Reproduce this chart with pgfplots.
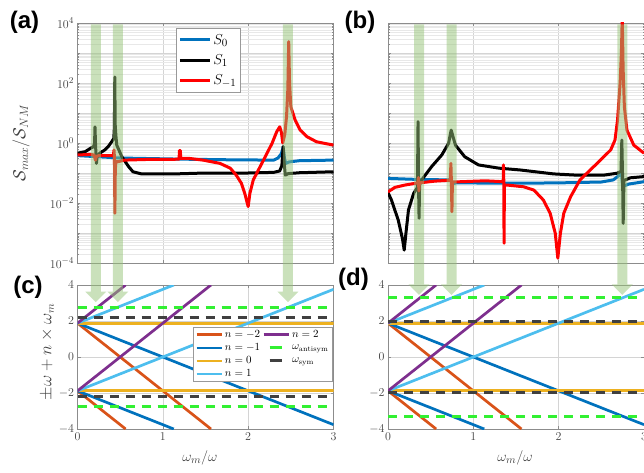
\documentclass[border=0pt]{standalone}
\usepackage{pgfplots}
\pgfplotsset{compat=1.18}
\usepackage{fontspec}
\newfontfamily\panelfont{Liberation Sans}
\usetikzlibrary{calc}
\definecolor{mblue}{RGB}{0,114,189}
\definecolor{morange}{RGB}{217,83,25}
\definecolor{myellow}{RGB}{237,177,32}
\definecolor{mcyan}{RGB}{77,190,238}
\definecolor{mpurple}{RGB}{126,47,142}
\definecolor{mgreen}{RGB}{50,240,50}
\definecolor{mgray}{RGB}{64,64,64}
\definecolor{bandcol}{RGB}{150,195,120}
\pgfplotsset{
 myBase/.style={scale only axis, width=256pt, anchor=south west, xmin=0, xmax=3, xtick={0,1,2,3},
   axis line style={black!45, line width=0.6pt}, tick style={black!45, line width=0.4pt}, tick align=inside,
   major tick length=3pt, minor tick length=1.5pt,
   ticklabel style={text=black!75, font=\fontsize{12.5}{14}\selectfont},
   label style={text=black!75},
   major grid style={black!17, line width=0.4pt}, minor grid style={black!9, line width=0.3pt},
   no markers},
 myTop/.style={myBase, height=240pt, ymin=1e-4, ymax=1e4,
   ytick={1e-4,1e-3,1e-2,1e-1,1,1e1,1e2,1e3,1e4},
   minor ytick={2e-4,3e-4,4e-4,5e-4,6e-4,7e-4,8e-4,9e-4,
                2e-3,3e-3,4e-3,5e-3,6e-3,7e-3,8e-3,9e-3,
                2e-2,3e-2,4e-2,5e-2,6e-2,7e-2,8e-2,9e-2,
                2e-1,3e-1,4e-1,5e-1,6e-1,7e-1,8e-1,9e-1,
                2,3,4,5,6,7,8,9,20,30,40,50,60,70,80,90,
                200,300,400,500,600,700,800,900,2000,3000,4000,5000,6000,7000,8000,9000},
   xticklabels={}, grid=both},
 myBot/.style={myBase, height=144pt, ymin=-4, ymax=4, ytick={-4,-2,0,2,4}, grid=major,
   xlabel={$\omega_m/\omega$}, xlabel style={font=\fontsize{15}{17}\selectfont, anchor=center}},
 myCur/.style={line width=3pt, line join=round},
 myLn/.style={line width=2.7pt, forget plot},
 myDsh/.style={line width=3pt, dash pattern=on 9pt off 7pt, forget plot},
}
\begin{document}
\begin{tikzpicture}[x=1pt,y=1pt]
\path[use as bounding box] (0,0) rectangle (644,472);

% ---------------- (a)
\begin{semilogyaxis}[myTop, at={(77.5pt,209pt)},
  yticklabels={$10^{-4}$,,$10^{-2}$,,$10^{0}$,,$10^{2}$,,$10^{4}$},
  ylabel={$\mathcal{S}_{max}/\mathcal{S}_{NM}$},
  ylabel style={at={(axis description cs:-0.22,0.5)}, anchor=center, font=\fontsize{17.5}{19}\selectfont},
  legend style={at={(0.385,0.979)}, anchor=north west, draw=black!40, line width=0.5pt,
     font=\fontsize{15}{17}\selectfont, row sep=5pt, inner xsep=2pt, inner ysep=4pt, cells={anchor=west}},
  legend image code/.code={\draw[#1] (0pt,0pt) -- (30pt,0pt);}]
\addplot[myCur, mblue] coordinates {(0,0.380)(0.5,0.316)(1.2,0.290)(1.8,0.275)(2.30,0.269)(2.35,0.316)(2.39,0.447)(2.41,0.741)(2.425,0.316)(2.44,0.209)(2.48,0.234)(2.6,0.257)(3.0,0.269)};
\addlegendentry{$S_0$}
\addplot[myCur, black] coordinates {(0,0.457)(0.09,0.513)(0.15,0.661)(0.19,0.759)(0.200,1)(0.205,3.47)(0.212,0.794)(0.222,0.209)(0.23,0.355)(0.26,0.457)(0.32,0.589)(0.36,0.759)(0.40,1.096)(0.425,1.413)(0.432,3.16)(0.437,158.5)(0.442,3.98)(0.45,1.778)(0.46,0.851)(0.52,0.347)(0.6,0.162)(0.65,0.110)(0.75,0.0933)(1.14,0.0933)(1.5,0.1)(2.0,0.1)(2.3,0.105)(2.37,0.117)(2.395,0.178)(2.41,0.759)(2.42,0.251)(2.435,0.0851)(2.47,0.0955)(2.6,0.102)(3.0,0.11)};
\addlegendentry{$S_1$}
\addplot[myCur, red] coordinates {(0,0.398)(0.15,0.417)(0.195,0.398)(0.21,0.269)(0.22,0.355)(0.25,0.380)(0.35,0.380)(0.42,0.380)(0.428,0.589)(0.433,0.316)(0.438,0.00457)(0.443,0.126)(0.45,0.240)(0.48,0.240)(0.55,0.269)(0.8,0.282)(1.19,0.288)(1.195,0.562)(1.205,0.562)(1.21,0.309)(1.3,0.309)(1.47,0.269)(1.67,0.209)(1.79,0.145)(1.86,0.0851)(1.92,0.0457)(1.96,0.0209)(2.0,0.00759)(2.02,0.0209)(2.06,0.0589)(2.12,0.126)(2.2,0.347)(2.28,0.977)(2.335,2.40)(2.37,3.47)(2.39,2.24)(2.405,1.0)(2.43,2.0)(2.45,7.94)(2.465,63.1)(2.475,2399)(2.485,100)(2.50,16.2)(2.55,5.89)(2.61,2.69)(2.69,1.62)(2.8,1.10)(3.0,0.851)};
\addlegendentry{$S_{-1}$}
\coordinate (ta1) at (axis cs:0.215,1e4);
\coordinate (ta2) at (axis cs:0.473,1e4);
\coordinate (ta3) at (axis cs:2.466,1e4);
\end{semilogyaxis}

% ---------------- (b)
\begin{semilogyaxis}[myTop, at={(388pt,209pt)}, yticklabels={}]
\addplot[myCur, mblue] coordinates {(0,0.0661)(0.3,0.0617)(0.69,0.0589)(0.72,0.0589)(0.735,0.0708)(0.75,0.0437)(0.8,0.0468)(1.5,0.0457)(2.0,0.0468)(2.5,0.0501)(2.64,0.0589)(2.7,0.0794)(2.735,0.1)(2.75,0.0355)(2.82,0.0427)(3.0,0.0513)};
\addplot[myCur, black] coordinates {(0,0.0224)(0.04,0.0126)(0.12,0.00269)(0.17,6.31e-4)(0.19,2.69e-4)(0.21,9.77e-4)(0.24,5.89e-3)(0.3,0.0209)(0.345,0.0331)(0.352,5.13)(0.358,0.0355)(0.364,3.09e-3)(0.37,0.0398)(0.395,0.0589)(0.51,0.162)(0.63,0.398)(0.71,0.977)(0.74,2.69)(0.79,0.851)(0.9,0.347)(1.06,0.186)(1.3,0.145)(1.55,0.126)(1.94,0.0933)(2.2,0.0851)(2.53,0.0851)(2.68,0.0977)(2.73,0.112)(2.74,1.259)(2.748,0.1)(2.756,2.09e-3)(2.765,0.0562)(2.84,0.0692)(3.0,0.0759)};
\addplot[myCur, red] coordinates {(0,0.0234)(0.08,0.0331)(0.2,0.0398)(0.35,0.0468)(0.356,0.0708)(0.362,0.0251)(0.368,0.0468)(0.55,0.0537)(0.73,0.0575)(0.737,0.209)(0.743,0.0501)(0.749,5.13e-3)(0.755,0.0501)(0.86,0.0513)(1.14,0.0550)(1.35,0.0513)(1.353,0.186)(1.357,0.0501)(1.36,4.57e-4)(1.364,0.0398)(1.39,0.0398)(1.59,0.0347)(1.71,0.0269)(1.82,0.0126)(1.90,4.57e-3)(1.96,9.77e-4)(1.99,1.45e-4)(2.02,9.77e-4)(2.06,4.57e-3)(2.14,0.0162)(2.25,0.0589)(2.37,0.126)(2.49,0.269)(2.61,0.589)(2.66,1.259)(2.69,5.89)(2.72,100)(2.735,1000)(2.745,1.58e4)(2.755,316)(2.77,15.8)(2.80,2.69)(2.88,0.851)(3.0,0.457)};
\coordinate (tb1) at (axis cs:0.364,1e4);
\coordinate (tb2) at (axis cs:0.745,1e4);
\coordinate (tb3) at (axis cs:2.746,1e4);
\end{semilogyaxis}

% ---------------- (c)
\begin{axis}[myBot, at={(77.5pt,43pt)},
  ylabel={$\pm\omega+n\times\omega_m$},
  ylabel style={at={(axis description cs:-0.117,0.535)}, anchor=center, font=\fontsize{16}{18}\selectfont},
  xlabel style={at={(axis description cs:0.478,-0.2)}},
  legend columns=2,
  legend style={at={(0.997,0.71)}, anchor=north east, draw=black!40, line width=0.5pt,
     font=\fontsize{10.5}{11}\selectfont, row sep=0.5pt, inner xsep=2pt, inner ysep=1.5pt, cells={anchor=west}},
  legend image code/.code={\draw[#1] (0pt,0pt) -- (25pt,0pt);}]
\addlegendimage{morange, line width=2.7pt}\addlegendentry{$n=-2$}
\addlegendimage{mpurple, line width=2.7pt}\addlegendentry{$n=2$}
\addlegendimage{mblue, line width=2.7pt}\addlegendentry{$n=-1$}
\addlegendimage{mgreen, line width=3pt, dash pattern=on 12pt off 30pt, dash phase=-6pt}\addlegendentry{$\omega_{\mathrm{antisym}}$}
\addlegendimage{myellow, line width=2.7pt}\addlegendentry{$n=0$}
\addlegendimage{mgray, line width=3pt, dash pattern=on 12pt off 30pt, dash phase=-6pt}\addlegendentry{$\omega_{\mathrm{sym}}$}
\addlegendimage{mcyan, line width=2.7pt}\addlegendentry{$n=1$}
\addplot[myLn, morange] coordinates {(0,1.88)(1.564,-4)};
\addplot[myLn, morange] coordinates {(0,-1.88)(0.564,-4)};
\addplot[myLn, mblue] coordinates {(0,1.88)(3,-3.76)};
\addplot[myLn, mblue] coordinates {(0,-1.88)(1.128,-4)};
\addplot[myLn, myellow] coordinates {(0,1.88)(3,1.88)};
\addplot[myLn, myellow] coordinates {(0,-1.88)(3,-1.88)};
\addplot[myLn, mcyan] coordinates {(0,1.88)(1.128,4)};
\addplot[myLn, mcyan] coordinates {(0,-1.88)(3,3.76)};
\addplot[myLn, mpurple] coordinates {(0,1.88)(0.564,4)};
\addplot[myLn, mpurple] coordinates {(0,-1.88)(1.564,4)};
\addplot[myDsh, mgreen] coordinates {(0,2.74)(3,2.74)};
\addplot[myDsh, mgreen] coordinates {(0,-2.74)(3,-2.74)};
\addplot[myDsh, mgray] coordinates {(0,2.18)(3,2.18)};
\addplot[myDsh, mgray] coordinates {(0,-2.18)(3,-2.18)};
\node[anchor=south west, text=black!75, font=\fontsize{12.5}{14}\selectfont, inner sep=0pt] at (rel axis cs:0,1) [yshift=3pt] {$\times10^{9}$};
\coordinate (tc1) at (axis cs:0.215,3.05);
\coordinate (tc2) at (axis cs:0.473,3.05);
\coordinate (tc3) at (axis cs:2.466,3.05);
\end{axis}

% ---------------- (d)
\begin{axis}[myBot, at={(388pt,43pt)},
  xlabel style={at={(axis description cs:0.496,-0.2)}}]
\addplot[myLn, morange] coordinates {(0,1.88)(1.564,-4)};
\addplot[myLn, morange] coordinates {(0,-1.88)(0.564,-4)};
\addplot[myLn, mblue] coordinates {(0,1.88)(3,-3.76)};
\addplot[myLn, mblue] coordinates {(0,-1.88)(1.128,-4)};
\addplot[myLn, myellow] coordinates {(0,1.88)(3,1.88)};
\addplot[myLn, myellow] coordinates {(0,-1.88)(3,-1.88)};
\addplot[myLn, mcyan] coordinates {(0,1.88)(1.128,4)};
\addplot[myLn, mcyan] coordinates {(0,-1.88)(3,3.76)};
\addplot[myLn, mpurple] coordinates {(0,1.88)(0.564,4)};
\addplot[myLn, mpurple] coordinates {(0,-1.88)(1.564,4)};
\addplot[myDsh, mgreen] coordinates {(0,3.31)(3,3.31)};
\addplot[myDsh, mgreen] coordinates {(0,-3.31)(3,-3.31)};
\addplot[myDsh, mgray] coordinates {(0,1.97)(3,1.97)};
\addplot[myDsh, mgray] coordinates {(0,-1.97)(3,-1.97)};
\node[anchor=south west, text=black!75, font=\fontsize{12.5}{14}\selectfont, inner sep=0pt] at (rel axis cs:0,1) [yshift=3pt] {$\times10^{9}$};
\coordinate (td1) at (axis cs:0.364,3.45);
\coordinate (td2) at (axis cs:0.745,3.45);
\coordinate (td3) at (axis cs:2.746,3.45);
\end{axis}

% ---------------- green bands / arrows
\foreach \t/\b in {ta1/tc1,ta2/tc2,ta3/tc3,tb1/td1,tb2/td2,tb3/td3}{
  \fill[bandcol, fill opacity=0.5] ($(\t)+(-5,-1.5)$) -- ($(\b)+(-5,10.5)$) -- ($(\b)+(-10.5,10.5)$) -- (\b)
     -- ($(\b)+(10.5,10.5)$) -- ($(\b)+(5,10.5)$) -- ($(\t)+(5,-1.5)$) -- cycle;
}

% ---------------- panel labels
\node[font=\panelfont\bfseries\fontsize{24}{26}\selectfont, inner sep=0pt] at (24.5,449.5) {(a)};
\node[font=\panelfont\bfseries\fontsize{24}{26}\selectfont, inner sep=0pt] at (360,449.5) {(b)};
\node[font=\panelfont\bfseries\fontsize{24}{26}\selectfont, inner sep=0pt] at (28,184.5) {(c)};
\node[font=\panelfont\bfseries\fontsize{24}{26}\selectfont, inner sep=0pt] at (353.5,193) {(d)};
\end{tikzpicture}
\end{document}
